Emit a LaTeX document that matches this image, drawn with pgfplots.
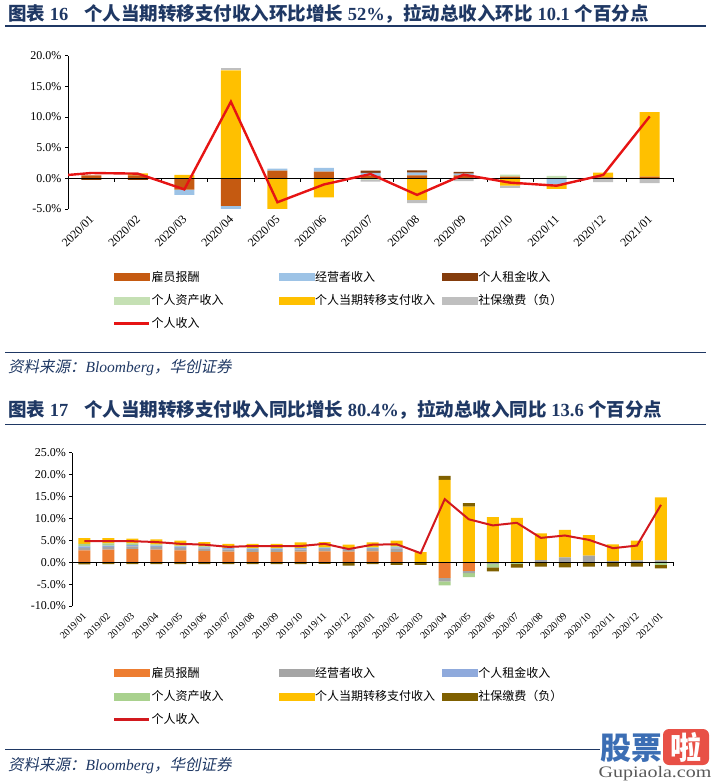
\documentclass[border=0pt]{standalone}
\usepackage{pgfplots}
\usepackage{pgfplotstable}
\pgfplotsset{compat=1.18}
\usepackage{fontspec}
\setmainfont{Liberation Serif}
\newfontfamily\cjk{Noto Sans CJK SC}
\newfontfamily\cjki{Noto Sans CJK SC}[FakeSlant=0.2]

\definecolor{navy}{RGB}{31,56,100}
\definecolor{aEmp}{RGB}{197,90,17}
\definecolor{aProp}{RGB}{157,195,230}
\definecolor{aRent}{RGB}{132,60,12}
\definecolor{aAsset}{RGB}{197,224,180}
\definecolor{aTrans}{RGB}{255,192,0}
\definecolor{aSoc}{RGB}{191,191,191}
\definecolor{aLine}{RGB}{230,20,20}
\definecolor{bEmp}{RGB}{237,125,49}
\definecolor{bProp}{RGB}{165,165,165}
\definecolor{bRent}{RGB}{143,170,220}
\definecolor{bAsset}{RGB}{169,209,142}
\definecolor{bTrans}{RGB}{255,192,0}
\definecolor{bSoc}{RGB}{127,96,0}
\definecolor{bLine}{RGB}{210,25,30}
\definecolor{wmBlue}{RGB}{60,110,180}
\definecolor{wmRed}{RGB}{232,80,70}

% Chart 1 (MoM), positive parts
\pgfplotstableread{
x emp prop rent asset trans soc
0 0.50 0 0 0 0 0
1 0.50 0 0 0 0.30 0
2 0 0 0 0 0.55 0
3 0 0 0 0 17.6 0.45
4 1.25 0.35 0 0 0 0
5 1.10 0.60 0 0 0 0
6 0.40 0.50 0.35 0 0 0
7 0.50 0.45 0.35 0 0 0
8 0.50 0.25 0.30 0 0 0
9 0.30 0 0 0.30 0 0
10 0 0 0 0.40 0 0
11 0.15 0 0 0 0.80 0
12 0.30 0 0 0 10.5 0
}\posA
% Chart 1, negative parts
\pgfplotstableread{
x emp prop rent asset trans soc
0 0 0 -0.25 0 0 0
1 0 0 -0.25 0 0 0
2 -1.85 -0.85 0 0 0 0
3 -4.5 -0.7 0 0 0 0
4 0 0 0 0 -5.2 0
5 0 0 0 0 -3.1 0
6 0 0 0 -0.2 0 -0.35
7 0 0 0 0 -3.5 -0.55
8 0 0 0 0 0 -0.45
9 0 0 0 0 -1.2 -0.35
10 0 -1.0 0 0 -0.7 0
11 0 0 0 0 0 -0.6
12 0 0 0 0 0 -0.8
}\negA
\pgfplotstableread{
x y
-1 0.23
0 0.87
1 0.77
2 -1.8
3 12.5
4 -3.9
5 -1.0
6 0.7
7 -2.7
8 0.6
9 -0.7
10 -1.2
11 0.55
12 10.1
}\lineA

% Chart 2 (YoY), positive parts
\pgfplotstableread{
x emp prop rent asset trans soc
0 2.7 0.6 0.3 0.6 1.3 0
1 2.9 0.6 0.3 0.5 1.2 0
2 3.0 0.6 0.3 0.4 1.1 0
3 2.9 0.6 0.3 0.3 1.1 0
4 2.7 0.6 0.3 0.2 1.1 0
5 2.6 0.5 0.3 0.2 1.0 0
6 2.4 0.5 0.3 0.1 0.9 0
7 2.3 0.5 0.3 0.1 1.0 0
8 2.3 0.5 0.3 0.1 1.0 0
9 2.4 0.5 0.3 0.1 1.2 0
10 2.5 0.5 0.3 0.1 1.2 0
11 2.4 0.4 0.3 0.0 0.9 0
12 2.5 0.5 0.3 0.1 1.1 0
13 2.3 0.8 0.3 0.2 1.3 0
14 0 0 0 0 2.3 0
15 0 0 0 0 18.8 0.9
16 0 0 0 0 12.7 0.8
17 0 0 0 0 10.3 0
18 0 0 0 0 10.1 0
19 0 0.5 0 0 6.1 0
20 0 1.1 0 0 6.3 0
21 0 1.5 0 0 4.7 0
22 0 0.3 0 0 3.8 0
23 0 0.4 0 0 4.5 0
24 0 0.4 0 0 14.4 0
}\posB
\pgfplotstableread{
x emp prop rent asset trans soc
0 0 0 0 0 0 -0.5
1 0 0 0 0 0 -0.45
2 0 0 0 0 0 -0.45
3 0 0 0 0 0 -0.45
4 0 0 0 0 0 -0.45
5 0 0 0 0 0 -0.45
6 0 0 0 0 0 -0.45
7 0 0 0 0 0 -0.45
8 0 0 0 0 0 -0.45
9 0 0 0 0 0 -0.45
10 0 0 0 0 0 -0.4
11 0 0 0 0 0 -0.8
12 0 0 0 0 0 -0.45
13 0 0 0 0 0 -0.6
14 0 0 0 0 0 -0.6
15 -3.6 -0.8 0 -0.9 0 0
16 -2.0 -0.5 0 -0.9 0 0
17 0 -0.4 0 -0.8 0 -0.9
18 0 0 0 -0.4 0 -0.85
19 0 0 0 0 0 -1.0
20 0 0 0 0 0 -1.2
21 0 0 0 0 0 -1.0
22 0 0 0 0 0 -1.0
23 0 0 0 0 0 -1.0
24 0 0 0 -0.6 0 -0.8
}\negB
\pgfplotstableread{
x y
0 4.8
1 4.8
2 4.8
3 4.6
4 4.2
5 4.0
6 3.5
7 3.7
8 3.7
9 3.7
10 4.2
11 3.0
12 4.0
13 4.1
14 2.05
15 14.4
16 9.8
17 8.4
18 9.0
19 5.55
20 6.1
21 5.1
22 3.2
23 3.8
24 13.1
}\lineB

\pgfplotsset{
  cA/.style={scale only axis, width=605pt, height=153.3pt, at={(68pt,-209pt)}, anchor=south west,
    xmin=-0.5, xmax=12.5, ymin=-5, ymax=20},
  cB/.style={scale only axis, width=600.7pt, height=153.3pt, at={(72.3pt,-606pt)}, anchor=south west,
    xmin=-0.5, xmax=24.5, ymin=-10, ymax=25},
  mainaxis/.style={
    axis y line*=left, axis x line*=bottom, x axis line style={draw=none},
    y axis line style={black, line width=0.6pt},
    xtick style={draw=none}, ytick style={black, line width=0.6pt},
    tick align=outside, major tick length=3pt,
    yticklabel={\pgfmathprintnumber[fixed,fixed zerofill,precision=1]{\tick}\%},
    /pgf/number format/assume math mode=true,
    y tick label style={font=\fontsize{12}{14}\selectfont},
  },
  sw/.style={legend image code/.code={\fill[#1] (0pt,-3.5pt) rectangle (35pt,3.5pt);}},
}

\begin{document}
\begin{tikzpicture}[x=1pt,y=1pt]
\path[use as bounding box] (0,0) rectangle (714,-783);

% ---------- Chart 1 header ----------
\node[anchor=west, inner sep=0, text=navy, font=\fontsize{18.5}{20}\selectfont\bfseries] at (8,-13.5)
  {{\cjk 图表}~16\hspace{16pt}{\cjk 个人当期转移支付收入环比增长}~52\%{\cjk ，拉动总收入环比}~10.1~{\cjk 个百分点}};
\draw[navy, line width=1.2pt] (5,-26) -- (706,-26);

% positive stacks + labels
\begin{axis}[cA, mainaxis, ybar stacked, bar width=20pt,
  ytick={-5,0,5,10,15,20},
  xtick={0,...,12},
  xticklabels={2020/01,2020/02,2020/03,2020/04,2020/05,2020/06,2020/07,2020/08,2020/09,2020/10,2020/11,2020/12,2021/01},
  x tick label style={font=\fontsize{12}{14}\selectfont, rotate=45, anchor=east, yshift=-4pt}]
\addplot[fill=aEmp, draw=none] table[x=x,y=emp]{\posA};
\addplot[fill=aProp, draw=none] table[x=x,y=prop]{\posA};
\addplot[fill=aRent, draw=none] table[x=x,y=rent]{\posA};
\addplot[fill=aAsset, draw=none] table[x=x,y=asset]{\posA};
\addplot[fill=aTrans, draw=none] table[x=x,y=trans]{\posA};
\addplot[fill=aSoc, draw=none] table[x=x,y=soc]{\posA};
\end{axis}
% negative stacks
\begin{axis}[cA, hide axis, ybar stacked, bar width=20pt]
\addplot[fill=aEmp, draw=none] table[x=x,y=emp]{\negA};
\addplot[fill=aProp, draw=none] table[x=x,y=prop]{\negA};
\addplot[fill=aRent, draw=none] table[x=x,y=rent]{\negA};
\addplot[fill=aAsset, draw=none] table[x=x,y=asset]{\negA};
\addplot[fill=aTrans, draw=none] table[x=x,y=trans]{\negA};
\addplot[fill=aSoc, draw=none] table[x=x,y=soc]{\negA};
\end{axis}
% zero line and ticks
\begin{axis}[cA, hide axis, clip=false]
\draw[black, line width=0.6pt] (axis cs:-0.5,0) -- (axis cs:12.5,0);
\pgfplotsinvokeforeach{0.5,1.5,...,12.5}{\draw[black, line width=0.6pt] (axis cs:#1,0) -- ++(0pt,-3.5pt);}
\end{axis}
% line + legend
\begin{axis}[cA, hide axis,
  legend columns=3, legend cell align=left,
  legend style={at={(0.0744,-0.398)}, anchor=north west, draw=none, fill=none, inner sep=0pt,
    row sep=9.5pt, column sep=0pt, font=\fontsize{12}{14}\selectfont, nodes={inner sep=1pt}}]
\addlegendimage{sw=aEmp}\addlegendentry{\makebox[126pt][l]{\cjk 雇员报酬}}
\addlegendimage{sw=aProp}\addlegendentry{\makebox[126pt][l]{\cjk 经营者收入}}
\addlegendimage{sw=aRent}\addlegendentry{\makebox[126pt][l]{\cjk 个人租金收入}}
\addlegendimage{sw=aAsset}\addlegendentry{\makebox[126pt][l]{\cjk 个人资产收入}}
\addlegendimage{sw=aTrans}\addlegendentry{\makebox[126pt][l]{\cjk 个人当期转移支付收入}}
\addlegendimage{sw=aSoc}\addlegendentry{\makebox[126pt][l]{\cjk 社保缴费（负）}}
\addplot[aLine, line width=2.4pt, mark=none,
  legend image code/.code={\draw[aLine, line width=2.4pt] (0pt,0pt) -- (35pt,0pt);}]
  table[x=x,y=y]{\lineA};
\addlegendentry{\makebox[126pt][l]{\cjk 个人收入}}
\end{axis}

\draw[navy, line width=1pt] (5,-352.5) -- (706,-352.5);
\node[anchor=west, inner sep=0, text=navy, font=\fontsize{15.5}{17}\selectfont] at (8,-368)
  {{\cjki 资料来源：}\textit{Bloomberg}{\cjki ，华创证券}};

% ---------- Chart 2 header ----------
\node[anchor=west, inner sep=0, text=navy, font=\fontsize{18.5}{20}\selectfont\bfseries] at (8,-410)
  {{\cjk 图表}~17\hspace{16pt}{\cjk 个人当期转移支付收入同比增长}~80.4\%{\cjk ，拉动总收入同比}~13.6~{\cjk 个百分点}};
\draw[navy, line width=1.2pt] (5,-424.5) -- (706,-424.5);

\begin{axis}[cB, mainaxis, ybar stacked, bar width=12pt,
  ytick={-10,-5,0,5,10,15,20,25},
  xtick={0,...,24},
  xticklabels={2019/01,2019/02,2019/03,2019/04,2019/05,2019/06,2019/07,2019/08,2019/09,2019/10,2019/11,2019/12,2020/01,2020/02,2020/03,2020/04,2020/05,2020/06,2020/07,2020/08,2020/09,2020/10,2020/11,2020/12,2021/01},
  x tick label style={font=\fontsize{10}{12}\selectfont, rotate=45, anchor=east, yshift=-4pt}]
\addplot[fill=bEmp, draw=none] table[x=x,y=emp]{\posB};
\addplot[fill=bProp, draw=none] table[x=x,y=prop]{\posB};
\addplot[fill=bRent, draw=none] table[x=x,y=rent]{\posB};
\addplot[fill=bAsset, draw=none] table[x=x,y=asset]{\posB};
\addplot[fill=bTrans, draw=none] table[x=x,y=trans]{\posB};
\addplot[fill=bSoc, draw=none] table[x=x,y=soc]{\posB};
\end{axis}
\begin{axis}[cB, hide axis, ybar stacked, bar width=12pt]
\addplot[fill=bEmp, draw=none] table[x=x,y=emp]{\negB};
\addplot[fill=bProp, draw=none] table[x=x,y=prop]{\negB};
\addplot[fill=bRent, draw=none] table[x=x,y=rent]{\negB};
\addplot[fill=bAsset, draw=none] table[x=x,y=asset]{\negB};
\addplot[fill=bTrans, draw=none] table[x=x,y=trans]{\negB};
\addplot[fill=bSoc, draw=none] table[x=x,y=soc]{\negB};
\end{axis}
\begin{axis}[cB, hide axis, clip=false]
\draw[black, line width=0.6pt] (axis cs:-0.5,0) -- (axis cs:24.5,0);
\pgfplotsinvokeforeach{0.5,1.5,...,24.5}{\draw[black, line width=0.6pt] (axis cs:#1,0) -- ++(0pt,-3.5pt);}
\end{axis}
\begin{axis}[cB, hide axis,
  legend columns=3, legend cell align=left,
  legend style={at={(0.0678,-0.391)}, anchor=north west, draw=none, fill=none, inner sep=0pt,
    row sep=9.5pt, column sep=0pt, font=\fontsize{12}{14}\selectfont, nodes={inner sep=1pt}}]
\addlegendimage{sw=bEmp}\addlegendentry{\makebox[126pt][l]{\cjk 雇员报酬}}
\addlegendimage{sw=bProp}\addlegendentry{\makebox[126pt][l]{\cjk 经营者收入}}
\addlegendimage{sw=bRent}\addlegendentry{\makebox[126pt][l]{\cjk 个人租金收入}}
\addlegendimage{sw=bAsset}\addlegendentry{\makebox[126pt][l]{\cjk 个人资产收入}}
\addlegendimage{sw=bTrans}\addlegendentry{\makebox[126pt][l]{\cjk 个人当期转移支付收入}}
\addlegendimage{sw=bSoc}\addlegendentry{\makebox[126pt][l]{\cjk 社保缴费（负）}}
\addplot[bLine, line width=2pt, mark=none,
  legend image code/.code={\draw[bLine, line width=2.4pt] (0pt,0pt) -- (35pt,0pt);}]
  table[x=x,y=y]{\lineB};
\addlegendentry{\makebox[126pt][l]{\cjk 个人收入}}
\end{axis}

\draw[navy, line width=1pt] (5,-749.5) -- (600,-749.5);
\node[anchor=west, inner sep=0, text=navy, font=\fontsize{15.5}{17}\selectfont] at (8,-766)
  {{\cjki 资料来源：}\textit{Bloomberg}{\cjki ，华创证券}};

% watermark
\node[anchor=center, inner sep=0, text=wmBlue, font=\fontsize{31}{33}\selectfont\bfseries] at (631,-748) {\cjk 股票};
\node[anchor=center, fill=wmRed, rounded corners=6pt, minimum width=46pt, minimum height=36pt, inner sep=0,
  text=white, font=\fontsize{31}{33}\selectfont\bfseries] at (686,-747) {\cjk 啦};
\node[anchor=center, inner sep=0, text=black!65, font=\fontsize{16}{18}\selectfont] at (655,-774) {\scalebox{1.25}[1]{Gupiaola.com}};
\end{tikzpicture}
\end{document}
